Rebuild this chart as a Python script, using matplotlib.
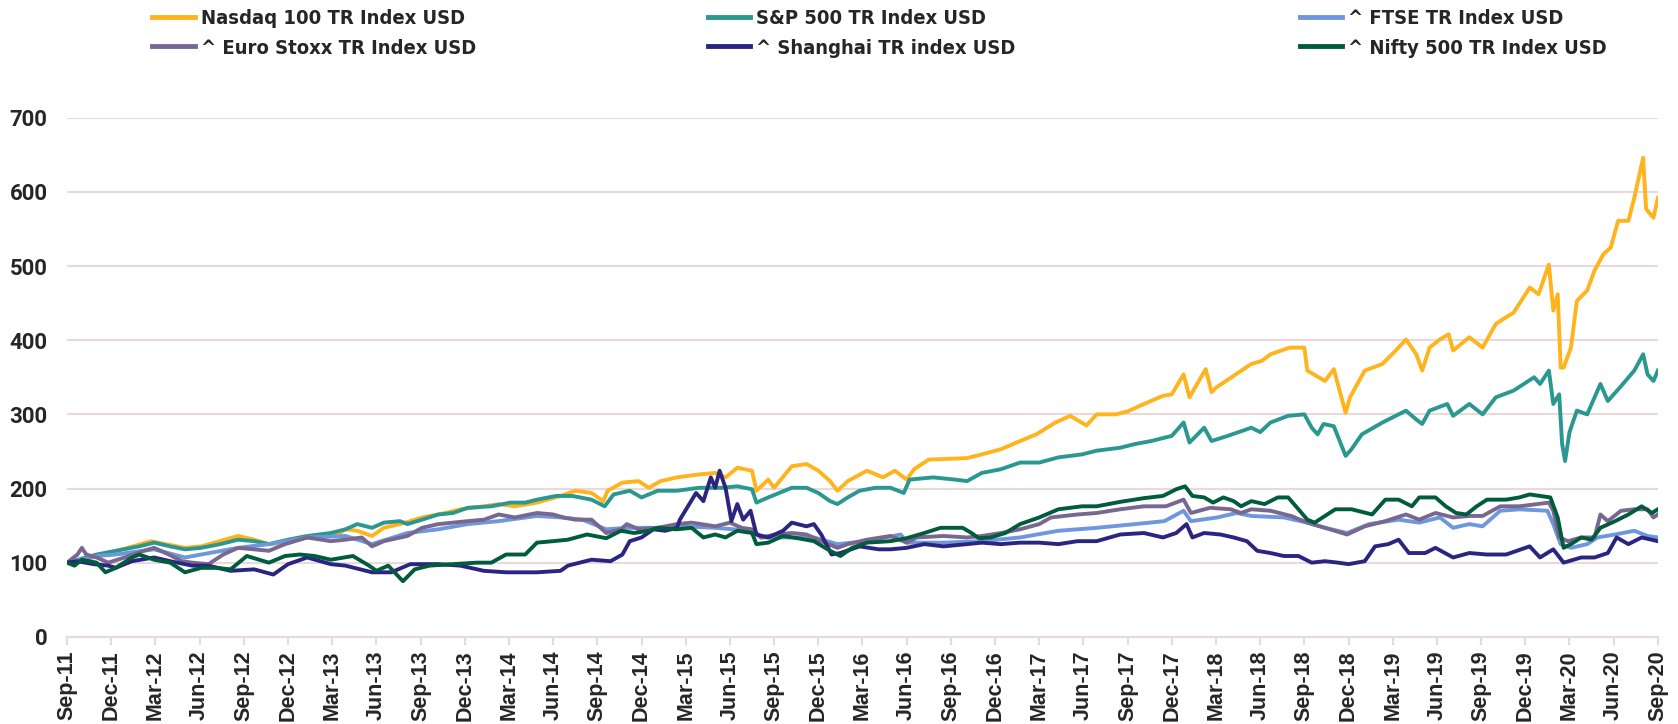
import matplotlib
matplotlib.use("Agg")
import matplotlib.pyplot as plt
import pandas as pd
from matplotlib import font_manager

# month offsets from Sep-11 (0) to Sep-20 (108) and index values
nasdaq_m = [0, 2, 5.7, 6.7, 8, 9.1, 11.6, 12.7, 13.7, 14.8, 16.3, 18.4, 18.9, 19.7, 20.7, 21.5, 22.6, 23.3, 24.1, 25.7,
            26.7, 28.3, 29.3, 30.4, 31.9, 33.5, 34.5, 35.6, 36.4, 36.7, 37.7, 38.8, 39.5, 40.3, 41.4, 42.9, 44.0, 44.7,
            45.5, 46.5, 46.8, 47.6, 48.0, 49.2, 50.2, 51.0, 51.8, 52.3, 53.0, 54.3, 55.4, 56.2, 57.0, 57.5, 58.5, 61.1,
            62.1, 63.4, 64.7, 65.8, 67.1, 68.1, 69.2, 69.9, 71.2, 72.0, 73.0, 74.4, 75.0, 75.8, 76.2, 77.3, 77.7, 78.0,
            79.2, 80.4, 81.1, 81.7, 83.0, 84.0, 84.2, 85.4, 86.0, 86.8, 87.1, 88.1, 89.3, 90.2, 90.9, 91.6, 92.0, 92.5,
            93.2, 93.8, 94.1, 95.2, 96.1, 97.0, 97.7, 98.2, 99.3, 99.9, 100.6, 100.9, 101.2, 101.4, 101.6, 102.1, 102.5,
            103.2, 103.7, 104.3, 104.8, 105.3, 106.0, 106.4, 107.0, 107.2, 107.7, 108.0]
nasdaq_v = [100, 108, 129, 125, 120, 122, 136, 131, 125, 127, 134, 138, 145, 143, 136, 147, 152, 156, 161, 167,
            172, 176, 179, 176, 181, 190, 197, 194, 183, 197, 208, 210, 201, 210, 215, 219, 221, 215,
            228, 224, 197, 212, 201, 230, 233, 224, 210, 197, 210, 224, 215, 224, 212, 226, 239, 241,
            246, 253, 264, 273, 289, 298, 285, 300, 300, 304, 313, 325, 327, 354, 323, 361, 330, 336,
            352, 368, 372, 381, 390, 390, 359, 345, 361, 302, 323, 359, 368, 386, 401, 381, 359, 390,
            401, 408, 386, 404, 390, 422, 431, 437, 471, 462, 502, 440, 462, 363, 363, 390, 453,
            467, 494, 516, 525, 561, 561, 592, 646, 577, 565, 592]

sp500_m = [0, 2, 3.3, 4.9, 5.9, 7, 8, 9.1, 10.4, 11.6, 12.7, 13.7, 15, 16.3, 17.9, 18.9, 19.7, 20.7, 21.5, 22.6, 23.1,
           24.1, 25.2, 26.2, 27.2, 28.8, 30.1, 31.1, 31.9, 33.2, 34.3, 35.6, 36.5, 37.1, 38.2, 39.0, 40.1, 41.4, 42.9,
           44.5, 45.5, 46.5, 46.8, 47.6, 48.1, 49.2, 50.2, 51.0, 51.8, 52.3, 53.0, 53.8, 54.9, 55.9, 56.8, 57.2, 58.8,
           60.3, 61.1, 62.1, 63.4, 64.7, 66.0, 67.3, 68.9, 69.9, 71.5, 72.5, 73.6, 75.0, 75.8, 76.2, 77.2, 77.7, 78.8,
           80.4, 81.0, 81.7, 82.9, 84.0, 84.5, 84.9, 85.3, 86.0, 86.8, 87.2, 87.9, 89.3, 90.9, 91.6, 92.0, 92.5, 93.7,
           94.1, 95.2, 96.1, 97.0, 98.2, 99.6, 100.0, 100.6, 100.9, 101.3, 101.5, 101.7, 102.0, 102.5, 103.2, 104.1,
           104.6, 105.5, 106.4, 107.0, 107.3, 107.7, 108.0]
sp500_v = [100, 111, 116, 122, 127, 122, 118, 120, 125, 131, 129, 125, 131, 136, 140, 145, 152, 147, 154, 156, 152,
           158, 165, 167, 174, 176, 181, 181, 185, 190, 190, 185, 176, 192, 197, 188, 197, 197, 201,
           201, 203, 199, 181, 188, 192, 201, 201, 194, 183, 179, 188, 197, 201, 201, 194, 212, 215,
           212, 210, 221, 226, 235, 235, 242, 246, 251, 255, 260, 264, 271, 289, 262, 282, 264, 271,
           282, 276, 289, 298, 300, 282, 273, 287, 284, 244, 253, 273, 289, 305, 293, 287, 305, 314,
           298, 314, 300, 323, 332, 350, 341, 359, 314, 327, 260, 237, 276, 305, 300, 341,
           318, 338, 359, 381, 354, 345, 359]

ftse_m = [0, 2, 3.3, 5.9, 8, 9.1, 11.6, 13.7, 16.3, 18.9, 20.7, 23.1, 25.2, 27.2, 29.3, 31.9, 33.5, 35, 36.6, 38, 40,
          42, 44, 46.5, 47.1, 50.7, 52.3, 54.3, 56.6, 57.0, 59.5, 62.1, 64.7, 67.3, 69.9, 72.5, 74.5, 75.8, 76.3, 78.1,
          79.4, 80.4, 82.6, 84.2, 85.4, 86.9, 88.4, 90.4, 91.8, 93.2, 94.1, 95.2, 96.1, 97.3, 98.6, 100.5, 100.9,
          101.4, 102.1, 103.2, 103.9, 105.1, 106.4, 107.3, 108]
ftse_v = [100, 109, 111, 118, 107, 111, 120, 125, 134, 136, 125, 140, 145, 152, 156, 163, 161, 158, 145, 147, 147,
          149, 147, 143, 134, 134, 125, 129, 138, 127, 127, 129, 134, 143, 147, 152, 156, 170, 156, 161,
          167, 163, 161, 154, 147, 140, 152, 158, 154, 161, 147, 152, 149, 170, 172, 170, 152,
          125, 120, 125, 134, 138, 143, 136, 134]

eurostoxx_m = [0, 0.7, 1, 1.3, 2, 2.8, 3.9, 5.2, 5.9, 6.7, 7.8, 8.5, 9.6, 10.6, 11.6, 12.7, 13.7, 14.8, 16.3, 17.9,
               18.9, 20, 20.7, 21.5, 23.1, 24.1, 25.2, 26.2, 27.2, 28.3, 29.3, 30.4, 31.9, 33, 33.7, 34.5, 35.6, 36.6,
               37.6, 38, 38.8, 40.1, 41.4, 42.4, 44, 45, 45.8, 46.5, 47.1, 48.1, 49.2, 50.2, 51.2, 52.3, 53, 54.3,
               55.9, 57, 57.7, 59.5, 61.1, 62.1, 63.4, 64.7, 66, 66.8, 68.6, 69.9, 71.5, 73.1, 74.6, 75.8, 76.3, 77.6,
               79, 79.7, 80.4, 81.7, 83.1, 84.2, 85.4, 86.9, 88.1, 89.5, 90.9, 91.8, 92.9, 94.1, 95.2, 96.1, 97.3,
               98.6, 99.8, 100.6, 100.9, 101.3, 101.9, 102.8, 103.7, 104.1, 104.6, 105.5, 106.4, 107.3, 107.7, 108]
eurostoxx_v = [100, 111, 120, 111, 107, 100, 107, 116, 120, 113, 102, 100, 98, 111, 120, 118, 116, 125, 134, 129,
               131, 134, 122, 129, 136, 147, 152, 154, 156, 158, 165, 161, 167, 165, 161, 158, 158, 140,
               145, 152, 145, 147, 152, 154, 149, 154, 147, 145, 134, 138, 140, 138, 129, 120, 125, 131,
               136, 127, 134, 136, 134, 136, 140, 145, 152, 161, 165, 167, 172, 176, 176, 185, 167, 174,
               172, 167, 172, 170, 163, 154, 147, 138, 149, 156, 165, 158, 167, 161, 163, 163, 176,
               176, 179, 181, 170, 134, 129, 134, 134, 165, 156, 170, 172, 172, 161, 165]

shanghai_m = [0, 0.7, 1.8, 2.8, 3.3, 4.4, 5.9, 7, 8.5, 9.6, 11.1, 12.7, 14, 15, 16.3, 17.9, 18.9, 20.7, 22, 23.3, 25.2,
              26.7, 28.3, 29.8, 31.9, 33.5, 34, 35.6, 36.9, 37.7, 38.2, 39, 39.8, 40.6, 41.4, 41.6, 42.7, 43.2, 43.7,
              44, 44.3, 44.7, 45.1, 45.5, 45.9, 46.4, 46.8, 47.6, 48.6, 49.2, 50.2, 50.7, 51.2, 51.9, 52.5, 53.8,
              55.1, 55.9, 57, 58.2, 59.5, 61.1, 62.1, 63.4, 64.7, 66, 67.3, 68.6, 69.9, 71.5, 73.1, 74.4, 75.3, 76,
              76.4, 77.2, 78.3, 79.2, 80.1, 80.8, 81.7, 82.6, 83.6, 84.5, 85.4, 86.3, 87, 88.1, 88.8, 89.7, 90.4,
              91.1, 92.2, 92.9, 94.1, 95.2, 96.4, 97.7, 99.3, 100, 100.9, 101.6, 102.8, 103.7, 104.6, 105.2, 106,
              106.9, 108]
shanghai_v = [100, 102, 98, 96, 93, 102, 107, 102, 96, 96, 89, 91, 84, 98, 107, 98, 96, 87, 87, 98, 98,
              96, 89, 87, 87, 89, 96, 104, 102, 111, 129, 134, 145, 143, 147, 158, 194, 183, 215,
              201, 224, 201, 156, 179, 158, 170, 138, 134, 143, 154, 149, 152, 138, 111, 113, 122,
              118, 118, 120, 125, 122, 125, 127, 125, 127, 127, 125, 129, 129, 138, 140, 134, 140, 152,
              134, 140, 138, 134, 129, 116, 113, 109, 109, 100, 102, 100, 98, 102, 122, 125, 131,
              113, 113, 120, 107, 113, 111, 111, 122, 107, 118, 100, 107, 107, 113, 134, 125,
              134, 129]

nifty_m = [0, 0.5, 1, 2, 2.6, 3.3, 4.4, 4.9, 5.9, 7, 8, 9.1, 10.1, 11.1, 12.2, 13.7, 14.8, 15.8, 16.8, 17.9, 19.4,
           20.5, 21, 21.8, 22.8, 23.6, 24.6, 26.2, 27.8, 28.8, 29.8, 31.1, 31.9, 33, 34, 35.3, 36.6, 37.6, 38.5, 39.5,
           40.1, 41.4, 42.4, 43.2, 44, 44.7, 45.5, 46.5, 46.8, 47.6, 48.6, 49.6, 50.7, 51.8, 52.5, 53.3, 54.3, 55.9,
           57, 58.2, 59.3, 60.8, 61.4, 61.9, 62.7, 63.7, 64.7, 66, 67.3, 68.9, 69.9, 71.5, 73.1, 74.4, 75.3, 75.9,
           76.4, 77.2, 77.8, 78.5, 79.2, 79.7, 80.4, 81.3, 82.2, 82.9, 83.6, 84.2, 84.7, 85.4, 86.1, 87.2, 88.6,
           89.5, 90.4, 91.3, 91.8, 92.9, 93.6, 94.3, 95, 95.7, 96.4, 97.7, 98.6, 99.3, 100, 100.7, 101.2, 101.6,
           102.1, 102.8, 103.5, 104.1, 105.1, 106, 106.9, 107.6, 108]
nifty_v = [100, 96, 104, 100, 87, 93, 107, 111, 104, 100, 87, 93, 93, 91, 109, 100, 109, 111, 109, 104, 109,
           96, 89, 96, 75, 91, 96, 98, 100, 100, 111, 111, 127, 129, 131, 138, 133, 143, 140, 143,
           147, 145, 147, 134, 138, 134, 143, 140, 125, 127, 136, 133, 129, 116, 109, 120, 127, 129,
           133, 140, 147, 147, 140, 133, 134, 140, 152, 161, 172, 176, 176, 182, 187, 190, 199, 203,
           190, 188, 181, 188, 183, 176, 183, 179, 188, 188, 172, 158, 154, 163, 172, 172, 165,
           185, 185, 176, 188, 188, 176, 167, 165, 176, 185, 185, 188, 192, 190, 188, 161, 120,
           125, 134, 131, 147, 156, 165, 176, 167, 172]

tick_labels = pd.date_range("2011-09-01", "2020-09-01", freq="3MS").strftime("%b-%y").tolist()

series = [
    ("Nasdaq 100 TR Index USD", nasdaq_m, nasdaq_v, "#FFB41E"),
    ("S&P 500 TR Index USD", sp500_m, sp500_v, "#2A9890"),
    ("^ FTSE TR Index USD", ftse_m, ftse_v, "#6F97DC"),
    ("^ Euro Stoxx TR Index USD", eurostoxx_m, eurostoxx_v, "#786891"),
    ("^ Shanghai TR index USD", shanghai_m, shanghai_v, "#2B2582"),
    ("^ Nifty 500 TR Index USD", nifty_m, nifty_v, "#015B3D"),
]

pink = "#EBD8DB"
txt = "#262626"

# condensed bold for the legend if there is one, else plain DejaVu
names = {f.name for f in font_manager.fontManager.ttflist}
narrow = [f for f in font_manager.fontManager.ttflist
          if f.name == "DejaVu Sans" and f.stretch == "condensed" and f.weight in (700, "bold")]
if "Liberation Sans Narrow" in names:
    leg_prop = {"family": "Liberation Sans Narrow", "weight": "bold", "size": 16}
elif narrow:
    leg_prop = {"family": "DejaVu Sans", "stretch": "condensed", "weight": "bold", "size": 14.5}
else:
    leg_prop = {"family": "DejaVu Sans", "weight": "bold", "size": 13}

fig = plt.figure(figsize=(16.78, 7.24), dpi=100)
ax = fig.add_axes([0.040, 0.1204, 0.948, 0.717])

handles = {}
for name, m, v, col in series:
    h, = ax.plot(m, v, color=col, lw=2.8, solid_joinstyle="round", label=name)
    handles[name] = h

ax.set_xlim(0, 108)
ax.set_ylim(0, 700)
ax.set_yticks(range(0, 701, 100))
ax.set_xticks(range(0, 109, 3))
ax.set_xticklabels(tick_labels, rotation=90, fontsize=15.5, fontweight="bold", color=txt,
                   family=["Liberation Sans", "DejaVu Sans"])
for lab in ax.get_yticklabels():
    lab.set_fontsize(16)
    lab.set_fontweight("bold")
    lab.set_color(txt)
    lab.set_family(["Roboto", "DejaVu Sans"])

for y in range(100, 701, 100):
    ax.axhline(y, color=pink, lw=1.5, zorder=0)

for s in ["top", "right", "left"]:
    ax.spines[s].set_visible(False)
ax.spines["bottom"].set_color(pink)
ax.spines["bottom"].set_linewidth(1.5)
ax.tick_params(axis="x", length=6, width=1.5, color=pink, pad=4)
ax.tick_params(axis="y", length=0, pad=14)

# legend: three columns of two entries
cols = [
    (0.080, ["Nasdaq 100 TR Index USD", "^ Euro Stoxx TR Index USD"]),
    (0.411, ["S&P 500 TR Index USD", "^ Shanghai TR index USD"]),
    (0.764, ["^ FTSE TR Index USD", "^ Nifty 500 TR Index USD"]),
]
for x0, lab_names in cols:
    leg = fig.legend(handles=[handles[n] for n in lab_names], loc="upper left", bbox_to_anchor=(x0, 1.012),
                     frameon=False, handlelength=2.1, handletextpad=0.3, labelspacing=0.5, prop=leg_prop)
    for t in leg.get_texts():
        t.set_color(txt)
    for l in leg.get_lines():
        l.set_linewidth(3.5)

fig.savefig("out.png", dpi=100)
